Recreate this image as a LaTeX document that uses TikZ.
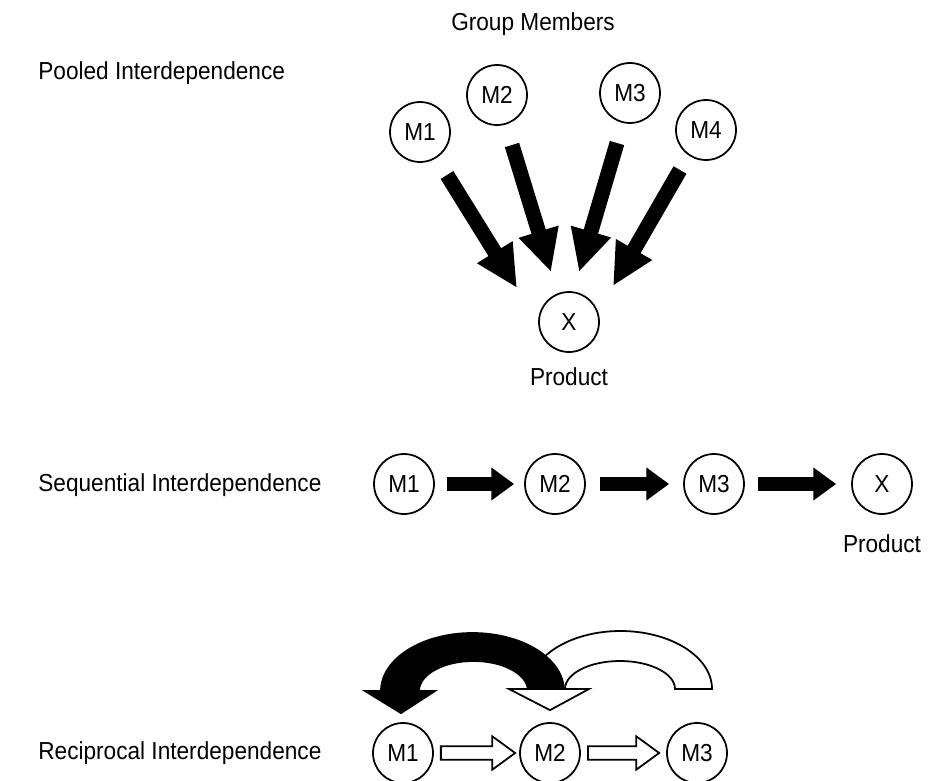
\documentclass[tikz,border=0pt]{standalone}
\usepackage{fontspec}
\setmainfont[FakeStretch=0.92]{Liberation Sans}
\usetikzlibrary{positioning,calc,arrows.meta}

\tikzset{
  member/.style={draw, circle, line width=1pt, minimum size=1.2cm, inner sep=0pt},
  caption/.style={anchor=west, inner sep=0pt},
  fatarrow/.style={line width=8.5pt, -{Triangle[length=24pt, width=22pt]}},
  seqarrow/.style={line width=8.5pt, -{Triangle[length=13pt, width=18pt]}},
  hollow/.style={draw, fill=white, line width=1pt, line join=miter},
  band/.style={draw, line width=1pt, line join=miter},
}

% open block arrow between two points on one level
\newcommand{\openarrow}[2]{%
  \draw[hollow] let \p1=(#1), \p2=(#2) in
    (\x1,\y1+3.8pt) -- (\x2-13pt,\y1+3.8pt) -- (\x2-13pt,\y1+9.5pt) -- (\x2,\y1)
    -- (\x2-13pt,\y1-9.5pt) -- (\x2-13pt,\y1-3.8pt) -- (\x1,\y1-3.8pt) -- cycle;}

\begin{document}
\begin{tikzpicture}[x=0.02cm, y=-0.02cm, font=\fontsize{14pt}{16pt}\selectfont]
    \useasboundingbox (0,0) rectangle (930,781);

    % pooled
    \node[caption] (pooled) at (38,73) {Pooled Interdependence};
    \node (group) at (533,24) {Group Members};
    \node[member] (m1) at (420,132) {M1};
    \node[member] (m2) at (497,95) {M2};
    \node[member] (m3) at (630,93) {M3};
    \node[member] (m4) at (706,130) {M4};
    \node[member] (x) at (569,322) {X};
    \node[below=0.18cm of x] (prod) {Product};
    \draw[fatarrow] ($(m1)+(27,43)$) -- ($(x)+(-52,-34)$);
    \draw[fatarrow] ($(m2)+(15,50)$) -- ($(x)+(-18,-50)$);
    \draw[fatarrow] ($(m3)+(-13,50)$) -- ($(x)+(10,-50)$);
    \draw[fatarrow] ($(m4)+(-26,40)$) -- ($(x)+(44,-36)$);

    % sequential
    \node[caption] (seq) at (38,485) {Sequential Interdependence};
    \node[member] (s1) at (404,484) {M1};
    \node[member] (s2) at (555,484) {M2};
    \node[member] (s3) at (714,484) {M3};
    \node[member] (sx) at (882,484) {X};
    \node[below=0.28cm of sx] (sprod) {Product};
    \draw[seqarrow, shorten <=0.24cm, shorten >=0.2cm] (s1) -- (s2);
    \draw[seqarrow, shorten <=0.28cm, shorten >=0.28cm] (s2) -- (s3);
    \draw[seqarrow, shorten <=0.26cm, shorten >=0.3cm] (s3) -- (sx);

    % reciprocal
    \node[caption] (recip) at (38,753) {Reciprocal Interdependence};
    \node[member] (r1) at (403,753) {M1};
    \node[member] (r2) at (550,753) {M2};
    \node[member] (r3) at (697,753) {M3};
    \openarrow{$(r1.east)+(7,0)$}{$(r2.west)+(-4,0)$}
    \openarrow{$(r2.east)+(7,0)$}{$(r3.west)+(-7,0)$}

    % curved arrows above
    \filldraw[band, fill=white] (529,689) arc[start angle=180, end angle=360, x radius=91.5, y radius=58]
      -- (675,689) arc[start angle=360, end angle=180, x radius=55, y radius=28] -- cycle;
    \filldraw[band, fill=black] (381,691) arc[start angle=180, end angle=360, x radius=91.5, y radius=58]
      -- (528,691) arc[start angle=360, end angle=180, x radius=54.5, y radius=30] -- cycle;
    \filldraw[band, fill=black] (365,691) -- (435,691) -- ($(r1.north)+(-2,-9)$) -- cycle;
    \filldraw[band, fill=white] (509,689) -- (589,689) -- ($(r2.north)+(0,-12)$) -- cycle;
\end{tikzpicture}
\end{document}
